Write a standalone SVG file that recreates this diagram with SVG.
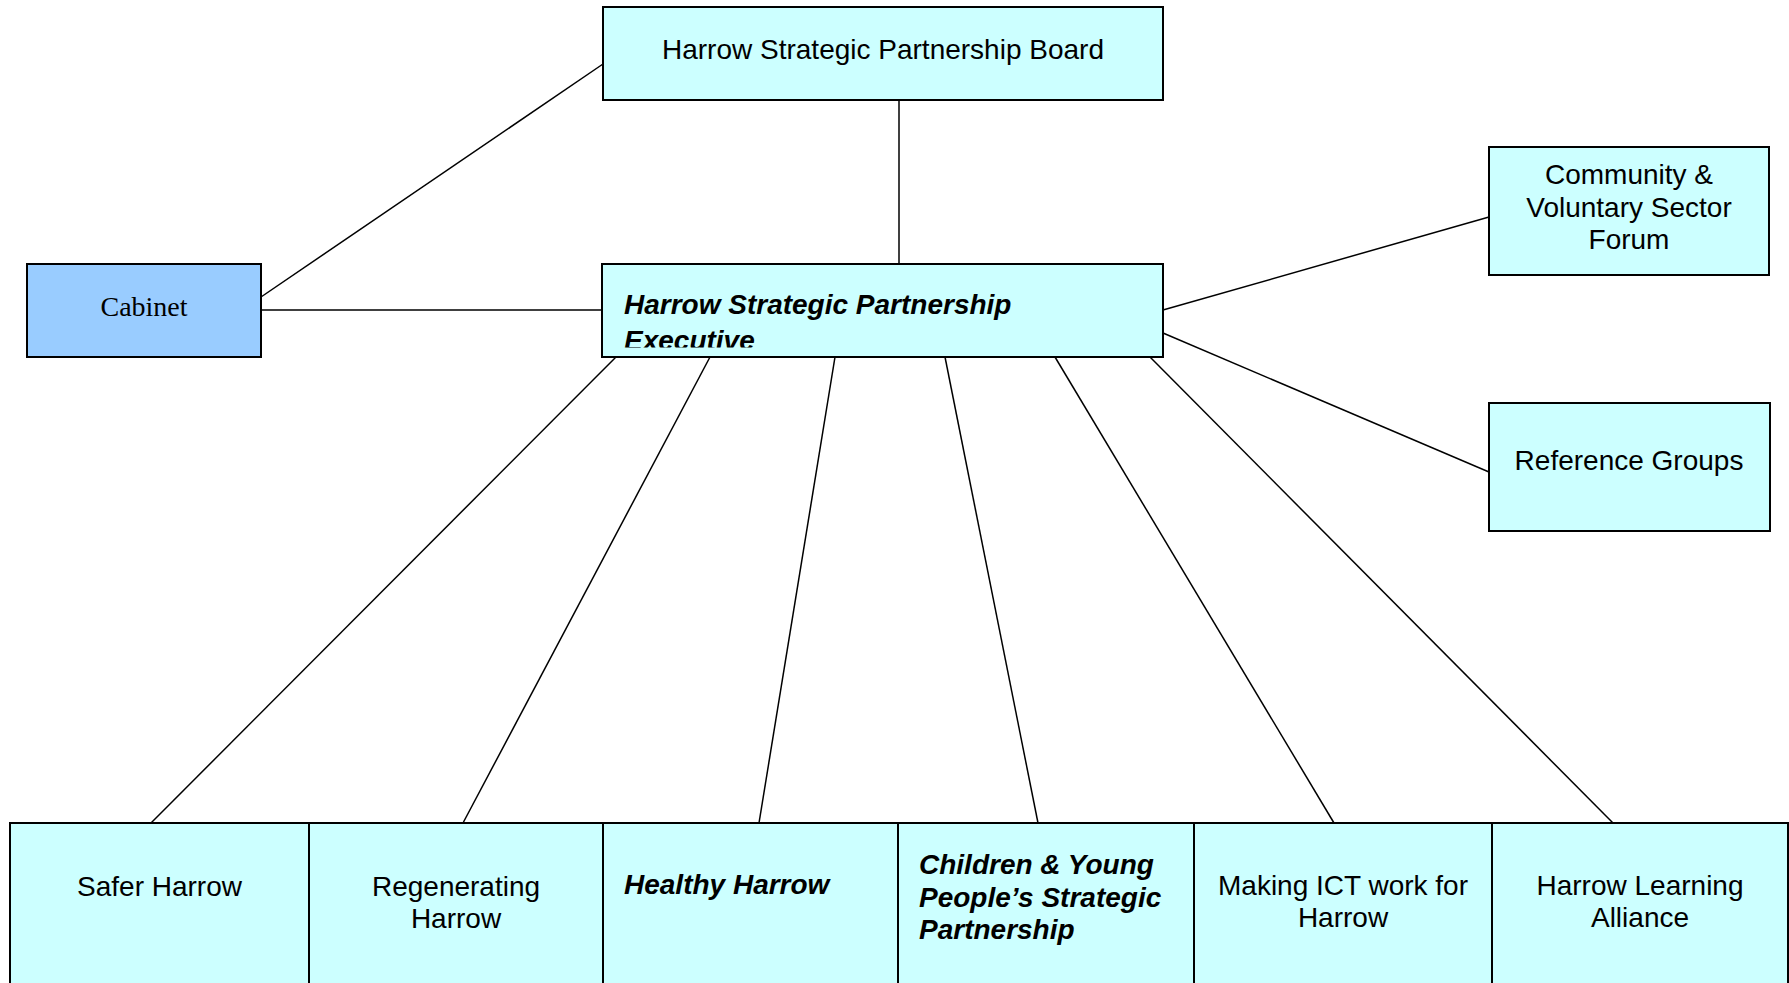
<svg xmlns="http://www.w3.org/2000/svg" width="1789" height="983" viewBox="0 0 1789 983">
<style>
.box{fill:#CCFFFF;stroke:#000;stroke-width:2}
.cab{fill:#99CCFF;stroke:#000;stroke-width:2}
.t{font-family:"Liberation Sans",Arial,sans-serif;font-size:28px;fill:#000}
.c{text-anchor:middle}
.bi{font-weight:bold;font-style:italic}
.serif{font-family:"Liberation Serif","Times New Roman",serif;font-size:28px;fill:#000;text-anchor:middle}
.ln{stroke:#000;stroke-width:1.5;fill:none}
</style>
<defs>
<clipPath id="execClip"><rect x="603" y="265" width="559" height="82.5"/></clipPath>
</defs>
<rect width="1789" height="983" fill="#fff"/>
<g id="connectors">
<line class="ln" x1="899" y1="100" x2="899" y2="264"/>
<line class="ln" x1="261" y1="297" x2="603" y2="64"/>
<line class="ln" x1="261" y1="310" x2="602" y2="310"/>
<line class="ln" x1="1163" y1="310" x2="1489" y2="217"/>
<line class="ln" x1="1163" y1="333" x2="1489" y2="472"/>
<line class="ln" x1="616" y1="357" x2="151" y2="823"/>
<line class="ln" x1="710" y1="357" x2="463" y2="823"/>
<line class="ln" x1="835" y1="357" x2="759" y2="823"/>
<line class="ln" x1="945" y1="357" x2="1038" y2="823"/>
<line class="ln" x1="1055" y1="357" x2="1334" y2="823"/>
<line class="ln" x1="1150" y1="357" x2="1613" y2="823"/>
</g>
<g id="board">
<rect class="box" x="603" y="7" width="560" height="93"/>
<text class="t c" x="883" y="59">Harrow Strategic Partnership Board</text>
</g>
<g id="cabinet">
<rect class="cab" x="27" y="264" width="234" height="93"/>
<text class="serif" x="144" y="316">Cabinet</text>
</g>
<g id="executive">
<rect class="box" x="602" y="264" width="561" height="93"/>
<g clip-path="url(#execClip)">
<text class="t bi" x="624" y="314">Harrow Strategic Partnership</text>
<text class="t bi" x="624" y="350">Executive</text>
</g>
</g>
<g id="community">
<rect class="box" x="1489" y="147" width="280" height="128"/>
<text class="t c" x="1629" y="184">Community &amp;</text>
<text class="t c" x="1629" y="216.5">Voluntary Sector</text>
<text class="t c" x="1629" y="249">Forum</text>
</g>
<g id="reference">
<rect class="box" x="1489" y="403" width="281" height="128"/>
<text class="t c" x="1629" y="470">Reference Groups</text>
</g>
<g id="safer">
<rect class="box" x="10" y="823" width="299" height="170"/>
<text class="t c" x="159.5" y="896">Safer Harrow</text>
</g>
<g id="regenerating">
<rect class="box" x="309" y="823" width="294" height="170"/>
<text class="t c" x="456" y="896">Regenerating</text>
<text class="t c" x="456" y="928">Harrow</text>
</g>
<g id="healthy">
<rect class="box" x="603" y="823" width="295" height="170"/>
<text class="t bi" x="624" y="894">Healthy Harrow</text>
</g>
<g id="children">
<rect class="box" x="898" y="823" width="296" height="170"/>
<text class="t bi" x="919" y="874">Children &amp; Young</text>
<text class="t bi" x="919" y="907">People’s Strategic</text>
<text class="t bi" x="919" y="939">Partnership</text>
</g>
<g id="ict">
<rect class="box" x="1194" y="823" width="298" height="170"/>
<text class="t c" x="1343" y="895">Making ICT work for</text>
<text class="t c" x="1343" y="927">Harrow</text>
</g>
<g id="learning">
<rect class="box" x="1492" y="823" width="296" height="170"/>
<text class="t c" x="1640" y="895">Harrow Learning</text>
<text class="t c" x="1640" y="927">Alliance</text>
</g>
</svg>
